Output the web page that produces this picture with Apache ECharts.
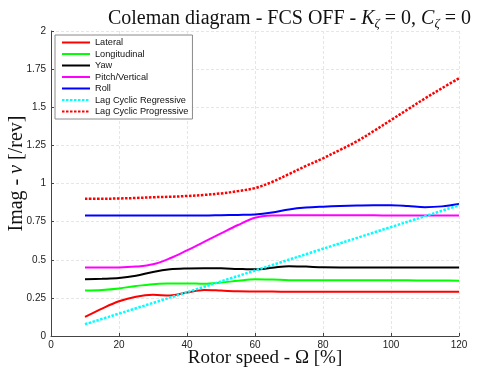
<!DOCTYPE html>
<html>
<head>
<meta charset="utf-8">
<script src="https://cdn.jsdelivr.net/npm/echarts@6/dist/echarts.min.js"></script>
<style>html,body{margin:0;padding:0;background:#fff;}#c{width:478px;height:374px;}</style>
</head>
<body>
<div id="c"></div>
<script>
// Rotor speed (%) sample points
const speed = [10,15,20,25,30,35,40,45,50,55,60,65,70,75,80,85,90,95,100,105,110,115,120];
const lateral      = [0.125,0.18,0.228,0.258,0.27,0.266,0.285,0.302,0.298,0.293,0.292,0.291,0.29,0.29,0.29,0.29,0.29,0.29,0.29,0.29,0.29,0.29,0.29];
const longitudinal = [0.298,0.302,0.312,0.328,0.34,0.344,0.345,0.342,0.35,0.362,0.372,0.37,0.366,0.365,0.365,0.365,0.365,0.365,0.365,0.365,0.364,0.364,0.363];
const yaw          = [0.372,0.375,0.38,0.395,0.42,0.437,0.443,0.445,0.444,0.44,0.437,0.447,0.458,0.455,0.451,0.45,0.45,0.45,0.45,0.45,0.45,0.45,0.45];
const pitchVert    = [0.45,0.45,0.45,0.455,0.47,0.51,0.562,0.617,0.673,0.728,0.775,0.79,0.792,0.792,0.792,0.791,0.791,0.791,0.79,0.79,0.79,0.79,0.79];
const roll         = [0.79,0.79,0.79,0.79,0.79,0.79,0.79,0.79,0.792,0.794,0.797,0.81,0.83,0.842,0.848,0.852,0.855,0.857,0.857,0.852,0.845,0.85,0.865];
const lagProg      = [0.9,0.9,0.902,0.905,0.91,0.913,0.918,0.925,0.935,0.95,0.97,1.01,1.062,1.115,1.165,1.22,1.277,1.345,1.416,1.487,1.558,1.625,1.69];
const regSpeed     = [10,40,80,120];
const lagReg       = [0.077,0.287,0.572,0.857];
const seriesNames  = ['Lateral','Longitudinal','Yaw','Pitch/Vertical','Roll','Lag Cyclic Regressive','Lag Cyclic Progressive'];
const xTicks = {min:0, max:120, interval:20};
const yTicks = {min:0, max:2, interval:0.25};

const pair = (xs, ys) => xs.map((x,i) => [x, ys[i]]);
const solid = (name, xs, ys, color) => ({
  name, type:'line', data: pair(xs, ys), smooth:0.35, symbol:'none', showSymbol:false,
  lineStyle:{color, width:2}, itemStyle:{color}, z:3
});
const dotted = (name, xs, ys, color) => ({
  name, type:'line', data: pair(xs, ys), smooth:0.35, symbol:'none', showSymbol:false,
  lineStyle:{color, width:2.5, type:[2.5,1.5]}, itemStyle:{color}, z:3
});

const chart = echarts.init(document.getElementById('c'), null, {renderer:'canvas'});
const serif = 'Liberation Serif, DejaVu Serif, serif';
const sans = 'Liberation Sans, Arial, sans-serif';
chart.setOption({
  animation:false,
  backgroundColor:'#fff',
  title:{
    text:'{n|Coleman diagram - FCS OFF - }{i|K}{s|ζ}{n| = 0, }{i|C}{s|ζ}{n| = 0}',
    right:2, top:3,
    textStyle:{
      fontWeight:'normal',
      rich:{
        n:{fontFamily:serif, fontSize:20, fontWeight:'normal', color:'#111'},
        i:{fontFamily:serif, fontSize:20, fontWeight:'normal', fontStyle:'italic', color:'#111'},
        s:{fontFamily:serif, fontSize:13, fontWeight:'normal', fontStyle:'italic', color:'#111', padding:[9,0,0,0]}
      }
    }
  },
  grid:{left:51, right:19, top:31, bottom:38, containLabel:false, outerBoundsMode:'none'},
  legend:{
    orient:'vertical', left:55, top:35,
    data: seriesNames,
    backgroundColor:'#fff', borderColor:'#8a8a8a', borderWidth:1, borderRadius:0,
    padding:[2,4,2,6], itemGap:0.5, itemWidth:28, itemHeight:11,
    itemStyle:{opacity:0, borderWidth:0},
    textStyle:{fontFamily:sans, fontSize:9.2, color:'#111', lineHeight:11},
    selectedMode:false
  },
  xAxis:{
    type:'value', min:xTicks.min, max:xTicks.max, interval:xTicks.interval,
    name:'Rotor speed - Ω [%]', nameLocation:'middle', nameGap:13, nameMoveOverlap:false,
    nameTextStyle:{fontFamily:serif, fontSize:19, color:'#111', verticalAlign:'top', padding:[0,0,0,20]},
    axisLine:{show:true, onZero:false, lineStyle:{color:'#444', width:1}},
    axisTick:{show:true, inside:true, length:3, lineStyle:{color:'#444'}},
    axisLabel:{fontFamily:sans, fontSize:10, color:'#222', margin:4},
    splitLine:{show:true, lineStyle:{color:'#e6e6e6', width:1, type:[3,2]}}
  },
  yAxis:{
    type:'value', min:yTicks.min, max:yTicks.max, interval:yTicks.interval,
    name:'{a|Imag - }{b|ν}{a| [/rev]}', nameLocation:'middle', nameGap:24, nameRotate:90, nameMoveOverlap:false,
    nameTextStyle:{padding:[0,0,0,20], rich:{a:{fontFamily:serif, fontSize:20, color:'#111'}, b:{fontFamily:serif, fontSize:20, fontStyle:'italic', color:'#111'}}},
    axisLine:{show:true, onZero:false, lineStyle:{color:'#444', width:1}},
    axisTick:{show:true, inside:true, length:3, lineStyle:{color:'#444'}},
    axisLabel:{fontFamily:sans, fontSize:10, color:'#222', margin:5},
    splitLine:{show:true, lineStyle:{color:'#e6e6e6', width:1, type:[3,2]}}
  },
  series:[
    solid(seriesNames[0], speed, lateral, '#ff0000'),
    solid(seriesNames[1], speed, longitudinal, '#00ff00'),
    solid(seriesNames[2], speed, yaw, '#000000'),
    solid(seriesNames[3], speed, pitchVert, '#ff00ff'),
    solid(seriesNames[4], speed, roll, '#0000ff'),
    dotted(seriesNames[5], regSpeed, lagReg, '#00ffff'),
    dotted(seriesNames[6], speed, lagProg, '#ff0000')
  ]
});
</script>
</body>
</html>
